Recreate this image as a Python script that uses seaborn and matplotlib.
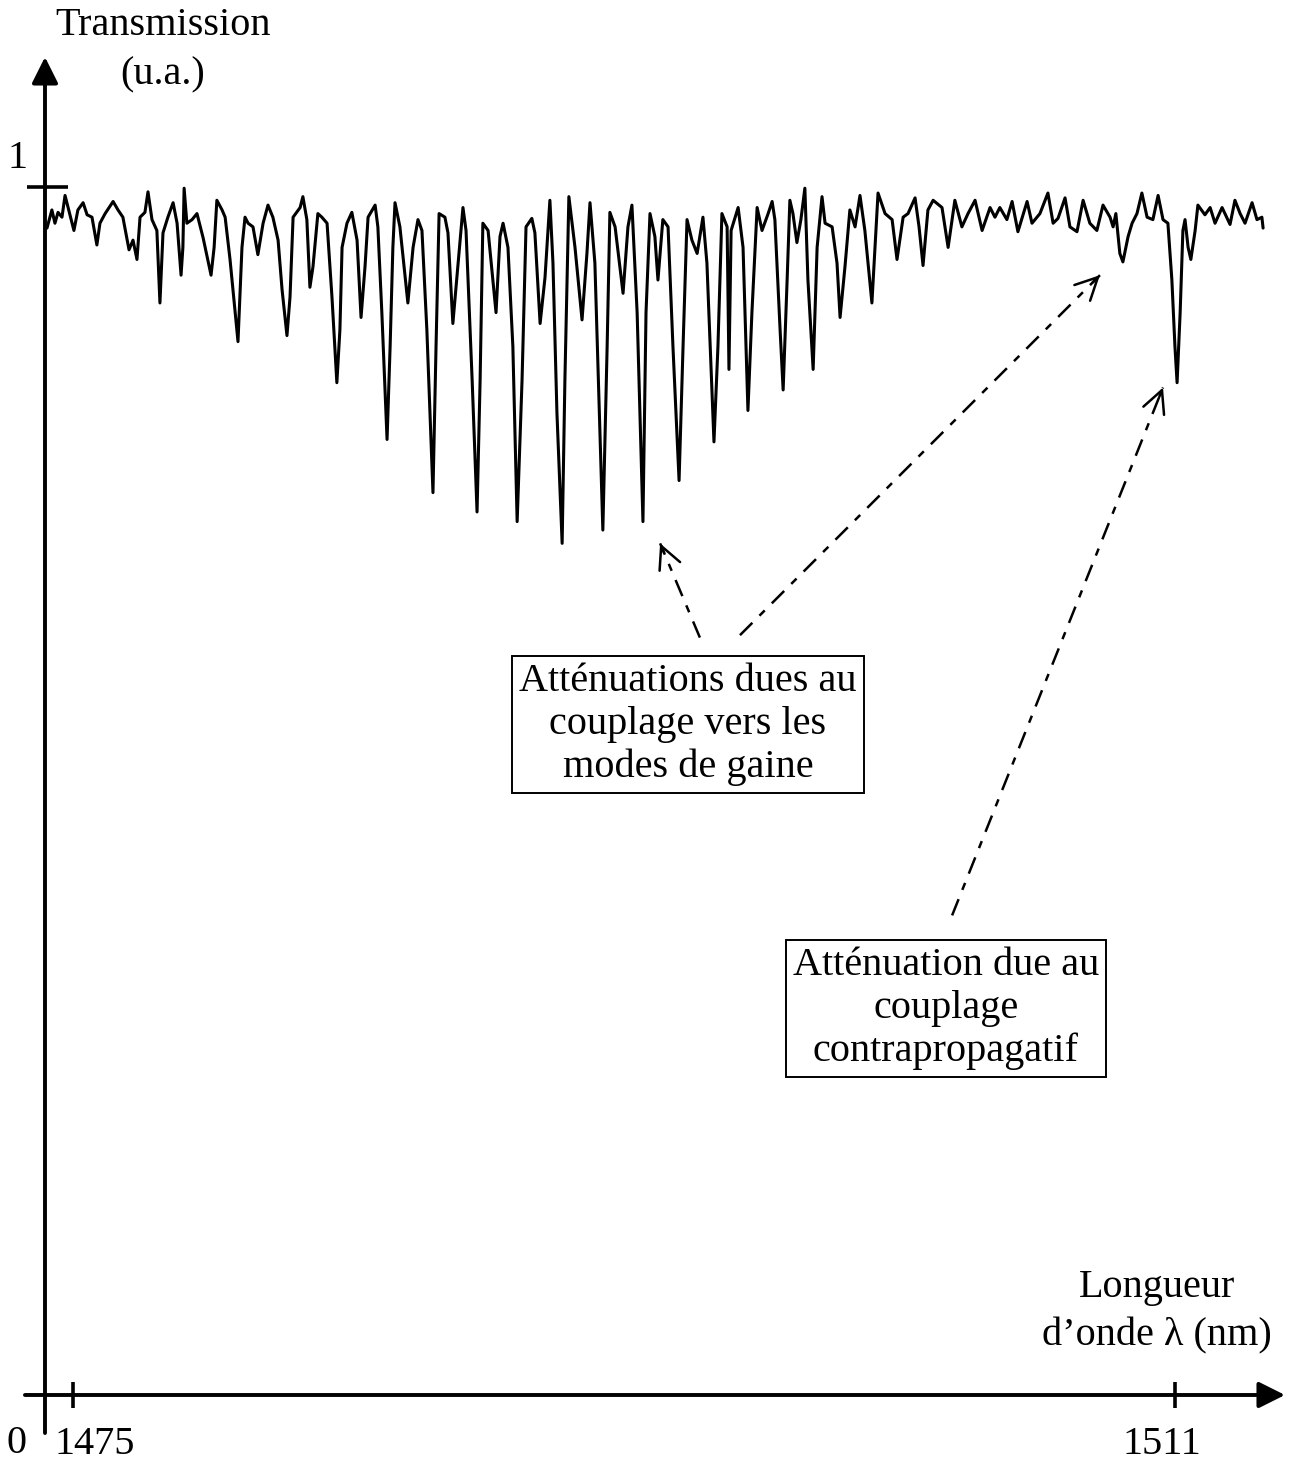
import matplotlib
matplotlib.use("Agg")
import matplotlib.pyplot as plt
import seaborn as sns
import pandas as pd

# ---- data (wavelength in nm, transmission in a.u.) ----
wavelength = [
    1474.15, 1474.31, 1474.41, 1474.51, 1474.64, 1474.74, 1474.84, 1475.03, 1475.16, 1475.33,
    1475.46, 1475.62, 1475.78, 1475.88, 1476.05, 1476.31, 1476.47, 1476.63, 1476.83, 1476.96,
    1477.09, 1477.19, 1477.35, 1477.45, 1477.58, 1477.74, 1477.84, 1477.94, 1478.10, 1478.27,
    1478.40, 1478.53, 1478.59, 1478.63, 1478.72, 1478.89, 1479.05, 1479.25, 1479.51, 1479.61,
    1479.70, 1479.87, 1479.97, 1480.13, 1480.39, 1480.52, 1480.62, 1480.72, 1480.88, 1481.04,
    1481.21, 1481.37, 1481.53, 1481.70, 1481.83, 1481.99, 1482.09, 1482.19, 1482.42, 1482.51,
    1482.64, 1482.74, 1482.84, 1483.00, 1483.13, 1483.30, 1483.46, 1483.62, 1483.72, 1483.79,
    1483.95, 1484.11, 1484.28, 1484.41, 1484.54, 1484.64, 1484.87, 1484.96, 1485.09, 1485.26,
    1485.36, 1485.45, 1485.52, 1485.68, 1485.94, 1486.11, 1486.27, 1486.40, 1486.56, 1486.76,
    1486.86, 1486.96, 1487.15, 1487.25, 1487.41, 1487.58, 1487.74, 1487.84, 1488.04, 1488.20,
    1488.30, 1488.39, 1488.56, 1488.82, 1488.95, 1489.05, 1489.21, 1489.37, 1489.51, 1489.67,
    1489.80, 1489.99, 1490.09, 1490.26, 1490.42, 1490.58, 1490.68, 1490.81, 1490.98, 1491.07,
    1491.20, 1491.40, 1491.63, 1491.79, 1491.89, 1492.05, 1492.31, 1492.45, 1492.54, 1492.71,
    1492.97, 1493.13, 1493.26, 1493.43, 1493.62, 1493.72, 1493.85, 1494.01, 1494.11, 1494.27,
    1494.44, 1494.60, 1494.80, 1494.93, 1495.06, 1495.22, 1495.39, 1495.58, 1495.71, 1495.94,
    1496.07, 1496.20, 1496.37, 1496.43, 1496.50, 1496.73, 1496.89, 1497.05, 1497.18, 1497.35,
    1497.51, 1497.71, 1497.84, 1497.93, 1498.10, 1498.20, 1498.33, 1498.42, 1498.52, 1498.65,
    1498.78, 1498.91, 1499.01, 1499.18, 1499.31, 1499.47, 1499.57, 1499.80, 1499.96, 1500.06,
    1500.22, 1500.38, 1500.55, 1500.71, 1500.87, 1501.10, 1501.20, 1501.30, 1501.53, 1501.76,
    1501.92, 1502.12, 1502.28, 1502.51, 1502.64, 1502.77, 1502.93, 1503.10, 1503.39, 1503.59,
    1503.81, 1504.04, 1504.24, 1504.47, 1504.70, 1504.96, 1505.12, 1505.28, 1505.51, 1505.68,
    1505.87, 1506.17, 1506.33, 1506.59, 1506.85, 1507.02, 1507.18, 1507.41, 1507.57, 1507.80,
    1508.00, 1508.22, 1508.45, 1508.65, 1508.88, 1508.98, 1509.07, 1509.20, 1509.30, 1509.47,
    1509.60, 1509.76, 1509.92, 1510.09, 1510.28, 1510.45, 1510.61, 1510.77, 1510.90, 1511.00,
    1511.07, 1511.17, 1511.26, 1511.33, 1511.43, 1511.52, 1511.66, 1511.75, 1511.98, 1512.15,
    1512.31, 1512.54, 1512.80, 1512.96, 1513.13, 1513.29, 1513.52, 1513.68, 1513.84, 1513.88,
]
transmission = [
    0.966, 0.981, 0.970, 0.979, 0.975, 0.993, 0.983, 0.964, 0.981, 0.987,
    0.977, 0.975, 0.952, 0.970, 0.978, 0.988, 0.981, 0.975, 0.948, 0.956,
    0.940, 0.975, 0.979, 0.996, 0.973, 0.964, 0.904, 0.962, 0.975, 0.987,
    0.970, 0.927, 0.950, 0.999, 0.970, 0.973, 0.978, 0.958, 0.927, 0.950,
    0.989, 0.981, 0.975, 0.940, 0.872, 0.950, 0.975, 0.970, 0.967, 0.944,
    0.970, 0.985, 0.975, 0.956, 0.915, 0.877, 0.909, 0.975, 0.983, 0.992,
    0.973, 0.917, 0.934, 0.978, 0.975, 0.970, 0.909, 0.838, 0.882, 0.950,
    0.970, 0.979, 0.956, 0.892, 0.934, 0.975, 0.985, 0.967, 0.896, 0.791,
    0.868, 0.950, 0.987, 0.967, 0.904, 0.950, 0.973, 0.964, 0.882, 0.747,
    0.868, 0.978, 0.975, 0.962, 0.887, 0.937, 0.983, 0.964, 0.840, 0.731,
    0.840, 0.970, 0.964, 0.896, 0.959, 0.970, 0.950, 0.868, 0.723, 0.840,
    0.967, 0.974, 0.962, 0.887, 0.925, 0.989, 0.937, 0.813, 0.705, 0.840,
    0.992, 0.950, 0.890, 0.945, 0.987, 0.937, 0.716, 0.868, 0.979, 0.967,
    0.912, 0.967, 0.985, 0.896, 0.723, 0.896, 0.978, 0.959, 0.923, 0.973,
    0.967, 0.868, 0.757, 0.868, 0.973, 0.956, 0.945, 0.975, 0.937, 0.789,
    0.868, 0.978, 0.967, 0.849, 0.964, 0.983, 0.950, 0.815, 0.896, 0.983,
    0.964, 0.978, 0.988, 0.973, 0.882, 0.832, 0.923, 0.989, 0.978, 0.954,
    0.973, 0.999, 0.923, 0.849, 0.950, 0.992, 0.970, 0.967, 0.937, 0.892,
    0.934, 0.981, 0.967, 0.993, 0.964, 0.904, 0.950, 0.995, 0.978, 0.973,
    0.940, 0.975, 0.978, 0.991, 0.967, 0.935, 0.981, 0.989, 0.983, 0.950,
    0.989, 0.967, 0.978, 0.989, 0.964, 0.983, 0.975, 0.983, 0.973, 0.988,
    0.963, 0.988, 0.970, 0.978, 0.995, 0.970, 0.974, 0.991, 0.967, 0.963,
    0.989, 0.970, 0.964, 0.985, 0.975, 0.967, 0.978, 0.945, 0.938, 0.959,
    0.970, 0.978, 0.995, 0.975, 0.973, 0.993, 0.973, 0.970, 0.923, 0.868,
    0.838, 0.896, 0.964, 0.973, 0.950, 0.940, 0.964, 0.985, 0.977, 0.983,
    0.970, 0.983, 0.969, 0.989, 0.978, 0.970, 0.987, 0.973, 0.975, 0.966,
]
x_ticks = [1475, 1511]
x_tick_labels = ["1475", "1511"]
y_ticks = [0, 1]
y_tick_labels = ["0", "1"]
y_title = "Transmission\n(u.a.)"
x_title = "Longueur\nd\u2019onde \u03bb (nm)"
note_cladding = "Atténuations dues au\ncouplage vers les\nmodes de gaine"
note_contra = "Atténuation due au\ncouplage\ncontrapropagatif"

# ---- figure ----
sns.set_theme(style="white")
plt.rcParams["font.family"] = ["Liberation Serif", "DejaVu Serif"]
plt.rcParams["text.color"] = "black"
FS = 29

fig = plt.figure(figsize=(12.96, 14.63), dpi=100)
ax = fig.add_axes([0, 0, 1, 1])
ax.set_xlim(1472.615, 1514.955)
ax.set_ylim(-0.0563, 1.1548)
ax.axis("off")

df = pd.DataFrame({"wavelength": wavelength, "transmission": transmission})
sns.lineplot(data=df, x="wavelength", y="transmission", sort=False, estimator=None,
             color="black", linewidth=2.2, ax=ax)

# axes with arrow heads
axis_kw = dict(arrowstyle="-|>,head_length=0.8,head_width=0.4", lw=2.8, color="black",
               shrinkA=0, shrinkB=0, mutation_scale=20)
ax.annotate("", xy=(1514.595, 0.0), xytext=(1473.43, 0.0), arrowprops=axis_kw)
ax.annotate("", xy=(1474.085, 1.1076), xytext=(1474.085, -0.0315), arrowprops=axis_kw)

# tick marks
for xt in x_ticks:
    ax.plot([xt, xt], [0.0105, -0.0105], color="black", lw=2.6, solid_capstyle="butt")
ax.plot([1473.50, 1474.84], [y_ticks[1], y_ticks[1]], color="black", lw=2.6, solid_capstyle="butt")

# tick labels
ax.text(1475.72, -0.041, x_tick_labels[0], fontsize=FS, ha="center", va="center")
ax.text(1510.58, -0.041, x_tick_labels[1], fontsize=FS, ha="center", va="center")
ax.text(1473.17, -0.040, y_tick_labels[0], fontsize=FS, ha="center", va="center")
ax.text(1473.20, 1.024, y_tick_labels[1], fontsize=FS, ha="center", va="center")

# axis titles
ax.text(1477.94, 1.1135, y_title, fontsize=FS, ha="center", va="center",
        multialignment="center", linespacing=1.45)
ax.text(1510.40, 0.069, x_title, fontsize=FS, ha="center", va="center",
        multialignment="center", linespacing=1.38)

# annotation boxes
box_kw = dict(boxstyle="square,pad=0.18", fc="white", ec="black", lw=1.4)
ax.text(1495.09, 0.555, note_cladding, fontsize=FS, ha="center", va="center",
        multialignment="center", linespacing=1.2, bbox=box_kw)
ax.text(1503.52, 0.320, note_contra, fontsize=FS, ha="center", va="center",
        multialignment="center", linespacing=1.2, bbox=box_kw)

# dashed arrows (tail -> tip)
arrows = [((1495.48, 0.627), (1494.18, 0.705), 0.10),
          ((1496.79, 0.629), (1508.55, 0.927), 0.02),
          ((1503.72, 0.397), (1510.61, 0.834), 0.018)]
for (tx, ty), (hx, hy), frac in arrows:
    ax.plot([tx, hx], [ty, hy], color="black", lw=1.8, ls=(0, (7, 4, 3, 4)))
    bx, by = hx - frac * (hx - tx), hy - frac * (hy - ty)
    ax.annotate("", xy=(hx, hy), xytext=(bx, by),
                arrowprops=dict(arrowstyle="->,head_length=0.8,head_width=0.4", lw=1.8,
                                color="black", shrinkA=0, shrinkB=0, mutation_scale=20))

fig.savefig("out.png", dpi=100)
